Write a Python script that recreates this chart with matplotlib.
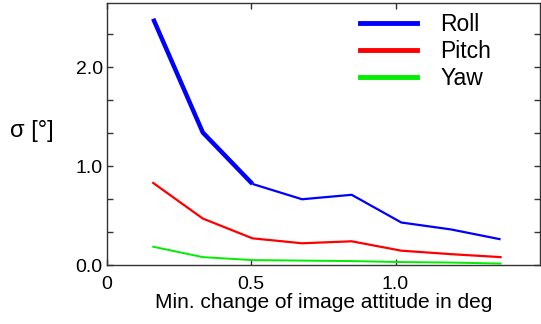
import numpy as np
from matplotlib import pyplot as plt

plt.rcParams['font.family'] = ['Liberation Sans', 'DejaVu Sans']

# min. change of image attitude (deg)
x = [0.16, 0.332, 0.504, 0.676, 0.848, 1.02, 1.192, 1.364]
roll = [2.49, 1.34, 0.82, 0.665, 0.71, 0.43, 0.36, 0.26]
pitch = [0.83, 0.47, 0.27, 0.22, 0.24, 0.145, 0.11, 0.08]
yaw = [0.185, 0.08, 0.05, 0.045, 0.04, 0.03, 0.025, 0.015]

xticks = [0, 0.5, 1.0]
xticklabels = ['0', '0.5', '1.0']
yticklabels = {0: '0.0', 3: '1.0', 6: '2.0'}

fig = plt.figure(figsize=(5.41, 3.24), dpi=100)
ax = fig.add_axes([0.1978, 0.182, 0.80, 0.809])

# roll line looks heavier on the first segments
ax.plot(x[:3], roll[:3], color='#0000ff', lw=3.2, solid_capstyle='butt')
ax.plot(x[2:], roll[2:], color='#0000ff', lw=1.6, solid_capstyle='butt')
ax.plot(x, pitch, color='#ff0000', lw=1.6)
ax.plot(x, yaw, color='#00ee00', lw=1.4)

ax.set_xlim(0, 1.5)
ax.set_ylim(0, 2.65)
ax.set_xticks(xticks)
ax.set_xticklabels(xticklabels)
yt = np.arange(0, 8) / 3
ax.set_yticks(yt)
ax.set_yticklabels([yticklabels.get(i, '') for i in range(len(yt))])
ax.tick_params(direction='in', length=4, width=1, labelsize=14,
               top=True, right=True, colors='#333333', labelcolor='black')
ax.tick_params(axis='x', pad=8)
ax.tick_params(axis='y', pad=3)
for s in ax.spines.values():
    s.set_color('#333333')
    s.set_linewidth(1)

ax.set_xlabel('Min. change of image attitude in deg', fontsize=15, labelpad=0)
fig.text(0.058, 0.595, 'σ [°]', fontsize=17, ha='center', va='center')

handles = [plt.Line2D([], [], color=c, lw=3.5) for c in ['#0000ff', '#ff0000', '#00ee00']]
ax.legend(handles, ['Roll', 'Pitch', 'Yaw'], loc='upper right', fontsize=16.5,
          frameon=False, handlelength=2.5, handletextpad=1.0, labelspacing=0.17,
          bbox_to_anchor=(0.935, 1.04))

fig.savefig('out.png', dpi=100)
